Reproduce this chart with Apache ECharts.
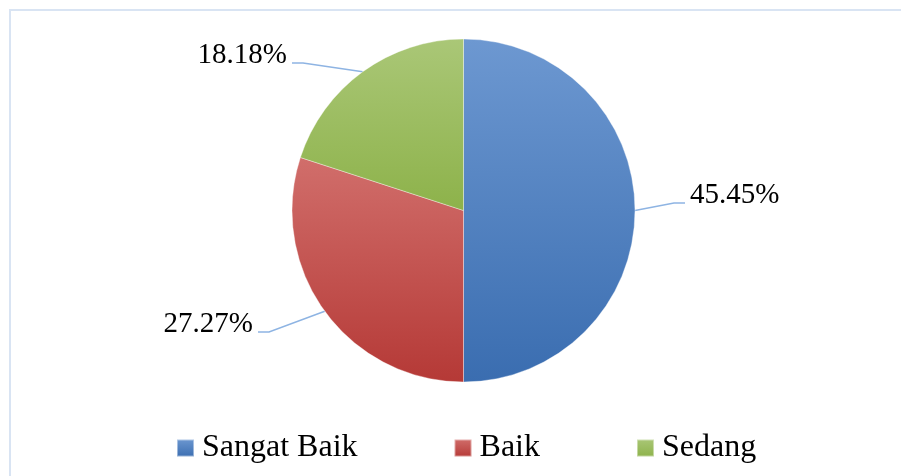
<!DOCTYPE html>
<html>
<head>
<meta charset="utf-8">
<style>
html,body{margin:0;padding:0;background:#ffffff;}
#chart{width:901px;height:476px;}
</style>
<script src="https://cdn.jsdelivr.net/npm/echarts@6/dist/echarts.min.js"></script>
</head>
<body>
<div id="chart"></div>
<script>
// ---- data ----
const categories = ['Sangat Baik', 'Baik', 'Sedang'];
const percentages = [45.45, 27.27, 18.18];

// ---- styling ----
const sliceColors = [
  ['#6d98d1', '#3a6db0'],
  ['#d16e6b', '#b53936'],
  ['#aac777', '#8db24a']
];
const labelPlacement = [
  { x: 690, y: 195, align: 'left' },
  { x: 253, y: 324, align: 'right' },
  { x: 287, y: 55, align: 'right' }
];

function grad(c) {
  return new echarts.graphic.LinearGradient(0, 0, 0, 1, [
    { offset: 0, color: c[0] },
    { offset: 1, color: c[1] }
  ]);
}

const chart = echarts.init(document.getElementById('chart'), null, { renderer: 'canvas' });

const seriesData = categories.map((name, i) => ({
  name: name,
  value: percentages[i],
  itemStyle: { color: grad(sliceColors[i]) }
}));

chart.setOption({
  animation: false,
  backgroundColor: '#ffffff',
  graphic: [{
    type: 'rect',
    shape: { x: 10, y: 10, width: 1000, height: 1000 },
    style: { fill: 'none', stroke: '#d9e4f3', lineWidth: 2 },
    silent: true
  }],
  legend: {
    left: 171,
    top: 427,
    orient: 'horizontal',
    icon: 'rect',
    itemWidth: 17,
    itemHeight: 17,
    itemGap: 96,
    selectedMode: false,
    data: categories,
    textStyle: {
      fontFamily: 'Liberation Serif',
      fontSize: 32,
      color: '#000000',
      padding: [0, 0, 0, 3]
    }
  },
  series: [{
    type: 'pie',
    center: [463.5, 210.5],
    radius: 171.5,
    startAngle: 90,
    clockwise: true,
    avoidLabelOverlap: false,
    emphasis: { disabled: true },
    itemStyle: { borderColor: 'rgba(255,255,255,0.45)', borderWidth: 0.8 },
    label: {
      show: true,
      position: 'outside',
      fontFamily: 'Liberation Serif',
      fontSize: 29,
      color: '#000000',
      formatter: p => p.value.toFixed(2) + '%'
    },
    labelLine: {
      show: true,
      length: 20,
      length2: 30,
      lineStyle: { color: '#8eb4e3', width: 1.5 }
    },
    labelLayout: function (p) {
      const s = labelPlacement[p.dataIndex];
      const dir = s.align === 'left' ? -1 : 1;
      const lineY = s.y + 8;
      const end = [s.x + dir * 5, lineY];
      const elbow = [s.x + dir * 16, lineY];
      const start = p.labelLinePoints ? p.labelLinePoints[0] : elbow;
      return {
        x: s.x,
        y: s.y,
        align: s.align,
        verticalAlign: 'middle',
        labelLinePoints: [start, elbow, end]
      };
    },
    data: seriesData
  }]
});
</script>
</body>
</html>
